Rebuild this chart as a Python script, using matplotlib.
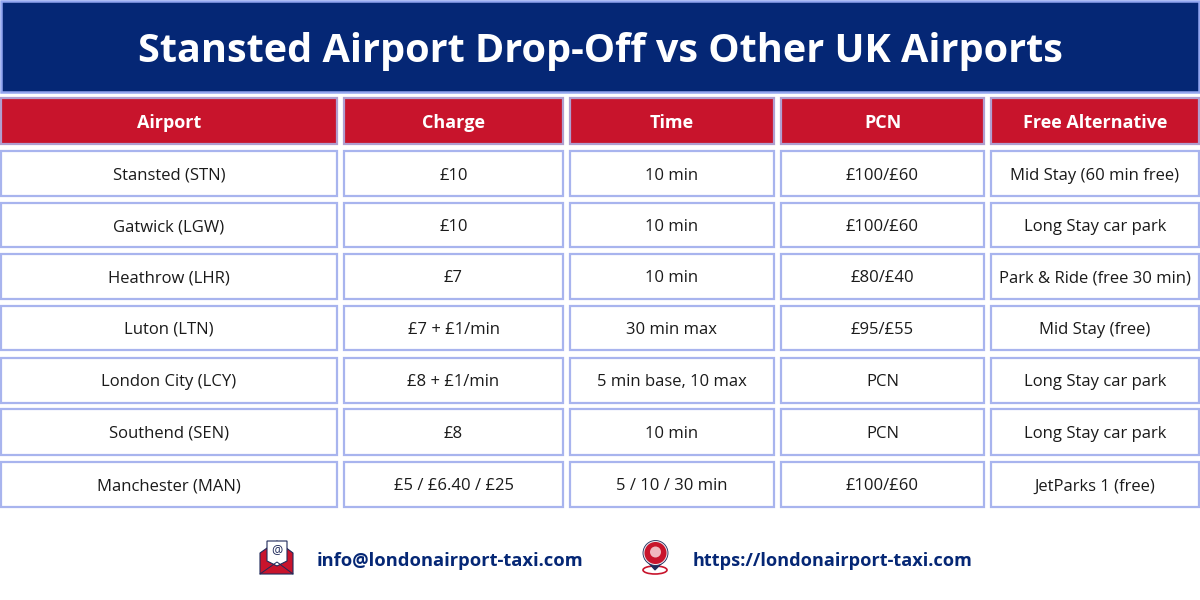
import matplotlib
matplotlib.use("Agg")
import matplotlib.pyplot as plt
from matplotlib.patches import Rectangle, Polygon, Circle, Ellipse

title = "Stansted Airport Drop-Off vs Other UK Airports"
columns = ["Airport", "Charge", "Time", "PCN", "Free Alternative"]
airports = ["Stansted (STN)", "Gatwick (LGW)", "Heathrow (LHR)", "Luton (LTN)",
            "London City (LCY)", "Southend (SEN)", "Manchester (MAN)"]
charges = ["£10", "£10", "£7", "£7 + £1/min", "£8 + £1/min", "£8", "£5 / £6.40 / £25"]
times = ["10 min", "10 min", "10 min", "30 min max", "5 min base, 10 max", "10 min", "5 / 10 / 30 min"]
pcns = ["£100/£60", "£100/£60", "£80/£40", "£95/£55", "PCN", "PCN", "£100/£60"]
alternatives = ["Mid Stay (60 min free)", "Long Stay car park", "Park & Ride (free 30 min)",
                "Mid Stay (free)", "Long Stay car park", "Long Stay car park", "JetParks 1 (free)"]
email = "info@londonairport-taxi.com"
website = "https://londonairport-taxi.com"

col_edges = [(0, 338), (343, 564), (569, 775), (780, 985), (990, 1200)]
row_edges = [(150, 197), (202, 248), (253, 300), (305, 351), (357, 404), (408, 456), (461, 508)]
header_edge = (97, 145)

NAVY = "#052775"
RED = "#c8142c"
BORDER = "#a8b4ee"
HBORDER = "#b09fd0"
INK = "#1a1a1a"
FONT = "Open Sans"

fig = plt.figure(figsize=(12, 6), dpi=100, facecolor="white")
ax = fig.add_axes([0, 0, 1, 1])
ax.set_xlim(0, 1200)
ax.set_ylim(600, 0)
ax.axis("off")

def cell(x0, x1, y0, y1, fc, ec, lw=1.6):
    ax.add_patch(Rectangle((x0 + 1, y0 + 1), x1 - x0 - 2, y1 - y0 - 2, fc=fc, ec=ec, lw=lw))

cell(0, 1200, 0, 93, NAVY, "#93a6f0", lw=1.8)
ax.text(600, 51.5, title, ha="center", va="center", color="white",
        fontsize=28.5, fontweight="bold", family=FONT)

for (x0, x1), name in zip(col_edges, columns):
    cell(x0, x1, header_edge[0], header_edge[1], RED, HBORDER)
    ax.text((x0 + x1) / 2, 122.5, name, ha="center", va="center", color="white",
            fontsize=13.0, fontweight="bold", family=FONT)

table_cols = [airports, charges, times, pcns, alternatives]
for (x0, x1), values in zip(col_edges, table_cols):
    for (y0, y1), value in zip(row_edges, values):
        cell(x0, x1, y0, y1, "white", BORDER)
        ax.text((x0 + x1) / 2, (y0 + y1) / 2 + 2, value, ha="center", va="center", color=INK,
                fontsize=12.0, family=FONT)

# mail icon
ax.add_patch(Polygon([(260, 574), (260, 553), (277, 541), (293, 553), (293, 574)], fc=RED, ec="#1f2a5a", lw=0.8))
ax.add_patch(Polygon([(267, 541), (287, 541), (287, 561), (277, 566), (267, 561)], fc="white", ec="#1f2a5a", lw=0.8))
ax.text(277, 549.5, "@", ha="center", va="center", fontsize=9, color="#1f2a5a", family=FONT)
ax.plot([260, 277, 293], [574, 562, 574], color="#1f2a5a", lw=0.7)

# pin icon
ax.add_patch(Ellipse((655, 570), 24, 8, fc="white", ec=RED, lw=1.2))
ax.add_patch(Polygon([(645, 559), (655, 570), (666, 559)], fc="#1f2a5a", ec="#1f2a5a", lw=0.8))
ax.add_patch(Circle((655.5, 553), 12.5, fc="#e8e4ea", ec="#1f2a5a", lw=0.6))
ax.add_patch(Circle((655.5, 553), 11, fc=RED, ec="none"))
ax.add_patch(Circle((655.5, 552), 5.5, fc="#f0b8c0", ec="none"))

ax.text(317, 561.5, email, ha="left", va="center", color=NAVY,
        fontsize=13.2, fontweight="bold", family=FONT)
ax.text(693, 561.5, website, ha="left", va="center", color=NAVY,
        fontsize=13.1, fontweight="bold", family=FONT)

fig.savefig("out.png", dpi=100, facecolor="white")
